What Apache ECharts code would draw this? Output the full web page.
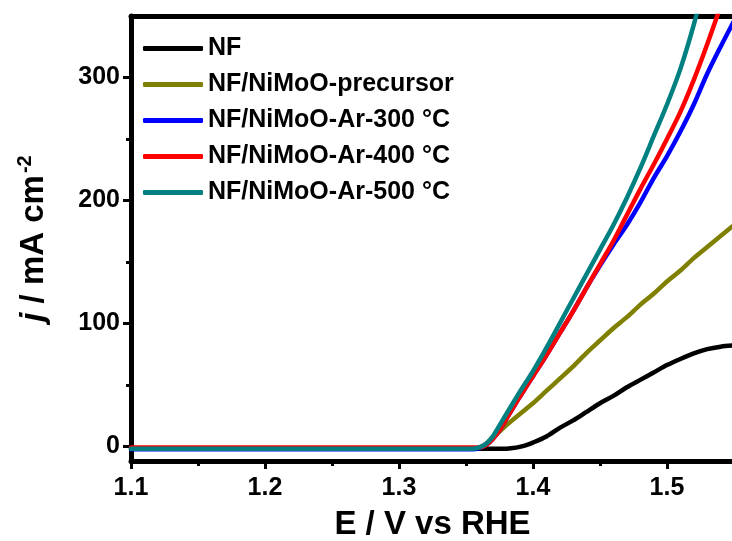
<!DOCTYPE html>
<html>
<head>
<meta charset="utf-8">
<script src="https://cdn.jsdelivr.net/npm/echarts@6/dist/echarts.min.js"></script>
<style>
  html, body { margin: 0; padding: 0; background: #ffffff; }
  #chart { width: 732px; height: 541px; }
</style>
</head>
<body>
<div id="chart"></div>
<script>
// ---- Data ----
const potential = [1.10, 1.15, 1.20, 1.25, 1.30, 1.35, 1.355, 1.36, 1.365, 1.37, 1.375, 1.38, 1.385, 1.39, 1.395,
  1.40, 1.41, 1.42, 1.43, 1.44, 1.45, 1.46, 1.47, 1.48, 1.49, 1.50, 1.51, 1.52, 1.53, 1.54, 1.55];

const jNF = [-2, -2, -2, -2, -2, -2, -2, -2, -2, -2, -2, -2, -1.5, -0.5, 1,
  3, 8, 15, 21, 28, 35, 41, 48, 54, 60, 66, 71, 75.5, 79, 81, 82];

const jPrecursor = [-2, -2, -2, -2, -2, -2, -2, -1, 2, 7, 12, 17, 21.5, 26, 30.5,
  35, 45, 55, 65, 76, 86, 96, 105, 115, 124, 134, 143, 153, 162, 171, 180];

const jAr300 = [-2.5, -2.5, -2.5, -2.5, -2.5, -2.5, -2.5, -1.5, 1, 6, 13, 22, 31, 40, 48.5,
  57, 74, 92, 110, 129, 147, 164, 180, 198, 218, 236, 256, 278, 303, 325, 346];

const jAr400 = [-1, -1, -1, -1, -1, -1, -1, -1, 1, 6, 13, 22, 31, 40, 48.5,
  57, 74, 92, 110, 129, 148, 167, 188, 209, 229, 250, 272, 298, 327, 358, 390];

const jAr500 = [-2, -2, -2, -2, -2, -2, -2, -1, 2, 8, 17, 26, 35, 44, 52.5,
  61, 80, 100, 120, 140, 160, 180, 202, 226, 252, 278, 307, 343, 385, 425, 465];

const seriesNames = ['NF', 'NF/NiMoO-precursor', 'NF/NiMoO-Ar-300 \u00B0C', 'NF/NiMoO-Ar-400 \u00B0C', 'NF/NiMoO-Ar-500 \u00B0C'];
const seriesValues = [jNF, jPrecursor, jAr300, jAr400, jAr500];
const seriesColors = ['#000000', '#808000', '#0000FF', '#FF0000', '#008080'];

const xMajorTicks = [1.1, 1.2, 1.3, 1.4, 1.5];
const xMinorTicks = [1.15, 1.25, 1.35, 1.45];
const yMajorTicks = [0, 100, 200, 300];
const yMinorTicks = [50, 150, 250];

// ---- Chart ----
const FONT = "'Liberation Sans', Arial, Helvetica, sans-serif";
const chart = echarts.init(document.getElementById('chart'), null, { renderer: 'canvas' });

function pairs(xs, ys) { return xs.map((x, i) => [x, ys[i]]); }

const option = {
  backgroundColor: '#ffffff',
  animation: false,
  grid: { left: 131, right: -2, top: 16, bottom: 80, containLabel: false, outerBoundsMode: 'none' },
  legend: {
    left: 143, top: 36, orient: 'vertical', padding: 0,
    itemWidth: 60, itemHeight: 5, itemGap: 11,
    icon: 'roundRect',
    data: seriesNames,
    textStyle: { fontFamily: FONT, fontSize: 25, fontWeight: 'bold', color: '#000', lineHeight: 25 }
  },
  xAxis: [
    {
      type: 'value', min: 1.1, max: 1.55, position: 'bottom',
      axisLine: { show: true, onZero: false, lineStyle: { color: '#000', width: 5 } },
      axisTick: { show: true, inside: false, length: 8, lineStyle: { color: '#000', width: 3 }, customValues: xMajorTicks },
      axisLabel: { show: true, margin: 15, customValues: xMajorTicks, formatter: v => v.toFixed(1),
        fontFamily: FONT, fontSize: 25, fontWeight: 'bold', color: '#000' },
      splitLine: { show: false },
      name: 'E / V vs RHE', nameLocation: 'middle', nameGap: 47,
      nameTextStyle: { fontFamily: FONT, fontSize: 33, fontWeight: 'bold', color: '#000' }
    },
    {
      type: 'value', min: 1.1, max: 1.55, position: 'bottom',
      axisLine: { show: false, onZero: false },
      axisTick: { show: true, inside: false, length: 5, lineStyle: { color: '#000', width: 3 }, customValues: xMinorTicks },
      axisLabel: { show: false },
      splitLine: { show: false }
    },
    {
      type: 'value', min: 1.1, max: 1.55, position: 'top',
      axisLine: { show: true, onZero: false, lineStyle: { color: '#000', width: 5 } },
      axisTick: { show: false }, axisLabel: { show: false }, splitLine: { show: false }
    }
  ],
  yAxis: [
    {
      type: 'value', min: -12, max: 350, position: 'left',
      axisLine: { show: true, onZero: false, lineStyle: { color: '#000', width: 5 } },
      axisTick: { show: true, inside: false, length: 8, lineStyle: { color: '#000', width: 3 }, customValues: yMajorTicks },
      axisLabel: { show: true, margin: 11, customValues: yMajorTicks,
        fontFamily: FONT, fontSize: 25, fontWeight: 'bold', color: '#000' },
      splitLine: { show: false },
      name: '{i|j}{n| / mA cm}{sup|-2}', nameLocation: 'middle', nameGap: 78,
      nameTextStyle: {
        fontFamily: FONT, fontSize: 33, fontWeight: 'bold', color: '#000',
        rich: {
          i: { fontFamily: FONT, fontSize: 33, fontWeight: 'bold', fontStyle: 'italic', color: '#000' },
          n: { fontFamily: FONT, fontSize: 33, fontWeight: 'bold', color: '#000' },
          sup: { fontFamily: FONT, fontSize: 20, fontWeight: 'bold', color: '#000', padding: [0, 0, 18, 2] }
        }
      }
    },
    {
      type: 'value', min: -12, max: 350, position: 'left',
      axisLine: { show: false, onZero: false },
      axisTick: { show: true, inside: false, length: 5, lineStyle: { color: '#000', width: 3 }, customValues: yMinorTicks },
      axisLabel: { show: false }, splitLine: { show: false }
    }
  ],
  series: seriesNames.map((name, i) => ({
    name: name,
    type: 'line',
    xAxisIndex: 0, yAxisIndex: 0,
    data: pairs(potential, seriesValues[i]),
    showSymbol: false, symbol: 'none',
    smooth: 0.3,
    clip: true,
    color: seriesColors[i],
    lineStyle: { color: seriesColors[i], width: 4.5, cap: 'round', join: 'round' },
    itemStyle: { color: seriesColors[i] }
  }))
};

chart.setOption(option);
</script>
</body>
</html>
